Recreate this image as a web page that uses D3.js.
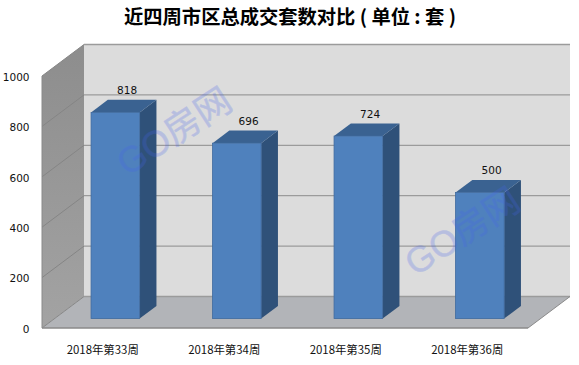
<!DOCTYPE html>
<html>
<head>
<meta charset="utf-8">
<script src="https://cdn.jsdelivr.net/npm/d3@7"></script>
<style>
  body { margin: 0; background: #fff; }
  svg { display: block; }
  text { fill: #111; }
  .tick-label { font: 10.5px "DejaVu Sans", sans-serif; }
  .value-label { font: 10.5px "DejaVu Sans", sans-serif; }
  .cat-label { font: 11.4px "Noto Sans CJK SC", sans-serif; }
  .title { font: bold 19.3px "Noto Sans CJK SC", sans-serif; fill: #000; }
  .watermark { font: 36px "Liberation Sans", "Noto Sans CJK SC", sans-serif; fill: rgb(70,100,235); stroke: rgb(70,100,235); stroke-width: .5px; opacity: .24; }
</style>
</head>
<body>
<svg id="chart" width="579" height="365"></svg>
<script>
const titleText = '近四周市区总成交套数对比 ( 单位 : 套 )';
const weeks = ['2018年第33周', '2018年第34周', '2018年第35周', '2018年第36周'];
const sold = [818, 696, 724, 500];
const yTicks = [0, 200, 400, 600, 800, 1000];
const watermarks = [[181, 142], [469, 242]];

const width = 579, height = 365;
const front = {left: 42, right: 528, top: 76, bottom: 328};
// how far the back of the box is shifted from the front
const depth = {x: 42, y: -31.5};

const svg = d3.select('#chart');

const xScale = d3.scaleBand()
  .domain(weeks)
  .range([front.left, front.right])
  .paddingInner(0.6)
  .paddingOuter(0.3);

const yScale = d3.scaleLinear()
  .domain([0, 1000])
  .range([front.bottom, front.top]);

// t = 0 is the front of the box, t = 1 the back wall
const px = (x, t) => x + t * depth.x;
const py = (y, t) => y + t * depth.y;
const poly = pts => pts.map(p => p.join(',')).join(' ');

const defs = svg.append('defs');
const wallGrad = defs.append('linearGradient')
  .attr('id', 'wall')
  .attr('x1', 0).attr('y1', 0).attr('x2', 0).attr('y2', 1);
wallGrad.append('stop').attr('offset', '0%').attr('stop-color', '#8d8d8d');
wallGrad.append('stop').attr('offset', '100%').attr('stop-color', '#a3a3a3');

// back wall, left wall, floor
svg.append('polygon')
  .attr('points', poly([
    [px(front.left, 1), py(front.top, 1)],
    [px(front.right, 1), py(front.top, 1)],
    [px(front.right, 1), py(front.bottom, 1)],
    [px(front.left, 1), py(front.bottom, 1)]
  ]))
  .attr('fill', '#dcdcdc');

svg.append('polygon')
  .attr('points', poly([
    [front.left, front.top],
    [px(front.left, 1), py(front.top, 1)],
    [px(front.left, 1), py(front.bottom, 1)],
    [front.left, front.bottom]
  ]))
  .attr('fill', 'url(#wall)');

svg.append('polygon')
  .attr('points', poly([
    [front.left, front.bottom],
    [px(front.left, 1), py(front.bottom, 1)],
    [px(front.right, 1), py(front.bottom, 1)],
    [front.right, front.bottom]
  ]))
  .attr('fill', '#b2b4b8');

// gridlines
svg.append('g')
  .selectAll('line')
  .data(yTicks)
  .join('line')
  .attr('x1', px(front.left, 1))
  .attr('x2', px(front.right, 1))
  .attr('y1', d => py(yScale(d), 1))
  .attr('y2', d => py(yScale(d), 1))
  .attr('stroke', '#9b9b9b')
  .attr('stroke-width', 1.3);

svg.append('g')
  .selectAll('line')
  .data(yTicks)
  .join('line')
  .attr('x1', front.left)
  .attr('x2', px(front.left, 1))
  .attr('y1', d => yScale(d))
  .attr('y2', d => py(yScale(d), 1))
  .attr('stroke', '#858585')
  .attr('stroke-width', 1);

svg.append('line')
  .attr('x1', front.left).attr('x2', front.right)
  .attr('y1', front.bottom).attr('y2', front.bottom)
  .attr('stroke', '#8a8a8a').attr('stroke-width', 1.3);

svg.append('line')
  .attr('x1', front.right).attr('x2', px(front.right, 1))
  .attr('y1', front.bottom).attr('y2', py(front.bottom, 1))
  .attr('stroke', '#8a8a8a').attr('stroke-width', 1);

svg.append('line')
  .attr('x1', front.left).attr('x2', front.left)
  .attr('y1', front.top).attr('y2', front.bottom)
  .attr('stroke', '#8a8a8a').attr('stroke-width', 1);

// bars, the front face sits 0.3 into the box and the back face at 0.7
const t0 = 0.3, t1 = 0.7;
const bars = svg.append('g')
  .selectAll('g')
  .data(weeks.map((w, i) => ({week: w, value: sold[i]})))
  .join('g');

bars.append('polygon')
  .attr('points', d => {
    const x = xScale(d.week) + xScale.bandwidth();
    return poly([
      [px(x, t0), py(yScale(d.value), t0)],
      [px(x, t1), py(yScale(d.value), t1)],
      [px(x, t1), py(yScale(0), t1)],
      [px(x, t0), py(yScale(0), t0)]
    ]);
  })
  .attr('fill', '#2f5179');

bars.append('polygon')
  .attr('points', d => {
    const x = xScale(d.week), x2 = x + xScale.bandwidth(), y = yScale(d.value);
    return poly([
      [px(x, t0), py(y, t0)],
      [px(x, t1), py(y, t1)],
      [px(x2, t1), py(y, t1)],
      [px(x2, t0), py(y, t0)]
    ]);
  })
  .attr('fill', '#3a6291');

bars.append('rect')
  .attr('x', d => px(xScale(d.week), t0))
  .attr('y', d => py(yScale(d.value), t0))
  .attr('width', xScale.bandwidth())
  .attr('height', d => yScale(0) - yScale(d.value))
  .attr('fill', '#4f81bd')
  .attr('stroke', '#3f6a9f')
  .attr('stroke-width', 0.8);

bars.append('text')
  .attr('class', 'value-label')
  .attr('x', d => px(xScale(d.week), t0) + 36)
  .attr('y', d => py(yScale(d.value), t0) - 22)
  .attr('dy', '.36em')
  .attr('text-anchor', 'middle')
  .text(d => d.value);

// axis labels
svg.append('g')
  .selectAll('text')
  .data(yTicks)
  .join('text')
  .attr('class', 'tick-label')
  .attr('x', 29.5)
  .attr('y', d => yScale(d) + 1)
  .attr('dy', '.36em')
  .attr('text-anchor', 'end')
  .text(d => d);

svg.append('g')
  .selectAll('text')
  .data(weeks)
  .join('text')
  .attr('class', 'cat-label')
  .attr('x', d => xScale(d) + xScale.bandwidth() / 2)
  .attr('y', 349.5)
  .attr('dy', '.36em')
  .attr('text-anchor', 'middle')
  .text(d => d);

svg.append('text')
  .attr('class', 'title')
  .attr('x', 290)
  .attr('y', 24)
  .attr('text-anchor', 'middle')
  .text(titleText);

// watermark goes on top of the bars
svg.append('g')
  .selectAll('text')
  .data(watermarks)
  .join('text')
  .attr('class', 'watermark')
  .attr('text-anchor', 'middle')
  .attr('transform', d => `translate(${d[0]},${d[1]}) rotate(-33)`)
  .text('GO房网');
</script>
</body>
</html>
